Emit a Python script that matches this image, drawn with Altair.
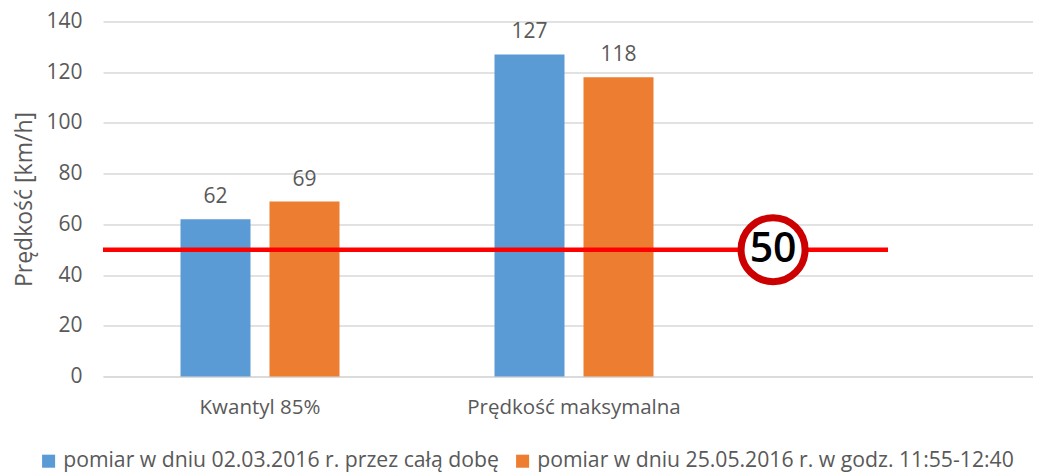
import altair as alt
import pandas as pd

categories = ["Kwantyl 85%", "Prędkość maksymalna", " "]
series_a = "pomiar w dniu 02.03.2016 r. przez całą dobę"
series_b = "pomiar w dniu 25.05.2016 r. w godz. 11:55-12:40"
values_a = [62, 127]
values_b = [69, 118]
limit_value = 50
limit_from = 0.0
limit_to = 2.5
sign_at = 2.134
colors = ["#5B9BD5", "#ED7D31"]

rows = []
for c, a, b in zip(categories, values_a, values_b):
    rows.append({"cat": c, "series": series_a, "v": a})
    rows.append({"cat": c, "series": series_b, "v": b})
df = pd.DataFrame(rows)
limit_df = pd.DataFrame({"a": [limit_from], "b": [limit_to], "v": [limit_value]})
sign_df = pd.DataFrame({"a": [sign_at], "v": [limit_value], "t": [str(limit_value)]})

FONT = "Open Sans"
GREY = "#595959"
RANGE = [0, 942]
yscale = alt.Scale(domain=[0, 140])
xq = alt.Scale(domain=[0, 3], range=RANGE)
band_scale = alt.Scale(domain=categories, range=RANGE, paddingInner=0.4936, paddingOuter=0.2468)

x_band = alt.X(
    "cat:N",
    sort=categories,
    scale=band_scale,
    title=None,
    axis=alt.Axis(labelAngle=0, labelFontSize=20.5, labelColor=GREY, labelFont=FONT, ticks=False,
                  domainColor="#d9d9d9", domainWidth=1.5, labelPadding=21, grid=False, labelLimit=400),
)
x_band_plain = alt.X("cat:N", sort=categories, scale=band_scale, title=None, axis=None)
x_off = alt.XOffset("series:N", sort=[series_a, series_b],
                    scale=alt.Scale(paddingInner=0.2135, paddingOuter=0))
y_axis = alt.Y(
    "v:Q", scale=yscale, title="Prędkość [km/h]",
    axis=alt.Axis(values=list(range(0, 141, 20)), labelFontSize=21, labelColor=GREY, labelFont=FONT,
                  titleFontSize=23, titleColor=GREY, titleFont=FONT, titleFontWeight="normal",
                  ticks=False, domain=False, gridColor="#d9d9d9", gridWidth=1.5, labelPadding=21,
                  titlePadding=9),
)
bars = alt.Chart(df).mark_bar().encode(
    x=x_band, xOffset=x_off, y=y_axis,
    color=alt.Color("series:N", sort=[series_a, series_b],
                    scale=alt.Scale(domain=[series_a, series_b], range=colors),
                    legend=alt.Legend(title=None, orient="none", legendX=-65, legendY=429, columns=2,
                                      symbolType="square", symbolSize=170, symbolStrokeWidth=0,
                                      labelFontSize=21.2, labelColor=GREY, labelFont=FONT,
                                      labelLimit=600, columnPadding=13, symbolOpacity=1)),
)
labels = alt.Chart(df).mark_text(baseline="bottom", dy=-12, fontSize=21, color=GREY, font=FONT).encode(
    x=x_band_plain, xOffset=x_off, y=y_axis, text="v:Q",
)
rule = alt.Chart(limit_df).mark_rule(color="#FF0000", strokeWidth=4.6).encode(
    x=alt.X("a:Q", scale=xq, axis=None), x2="b:Q", y=y_axis,
)
ring = alt.Chart(sign_df).mark_point(shape="circle", filled=False, fill="white", fillOpacity=1, size=4096,
                                     stroke="#CC0000", strokeWidth=7, opacity=1).encode(
    x=alt.X("a:Q", scale=xq, axis=None), y=y_axis,
)
sign_text = alt.Chart(sign_df).mark_text(fontSize=41, fontWeight=600, color="black", font=FONT,
                                         baseline="middle").encode(
    x=alt.X("a:Q", scale=xq, axis=None), y=y_axis, text="t:N",
)

chart = (
    alt.layer(bars, labels, rule, ring, sign_text)
    .resolve_scale(x="independent")
    .properties(width=930, height=355, autosize=alt.AutoSizeParams(type="none"),
                padding={"left": 95, "top": 13.5, "right": 0, "bottom": 98})
    .configure_view(stroke=None)
)
chart.save("out.html", embed_options={"renderer": "svg", "actions": False})
